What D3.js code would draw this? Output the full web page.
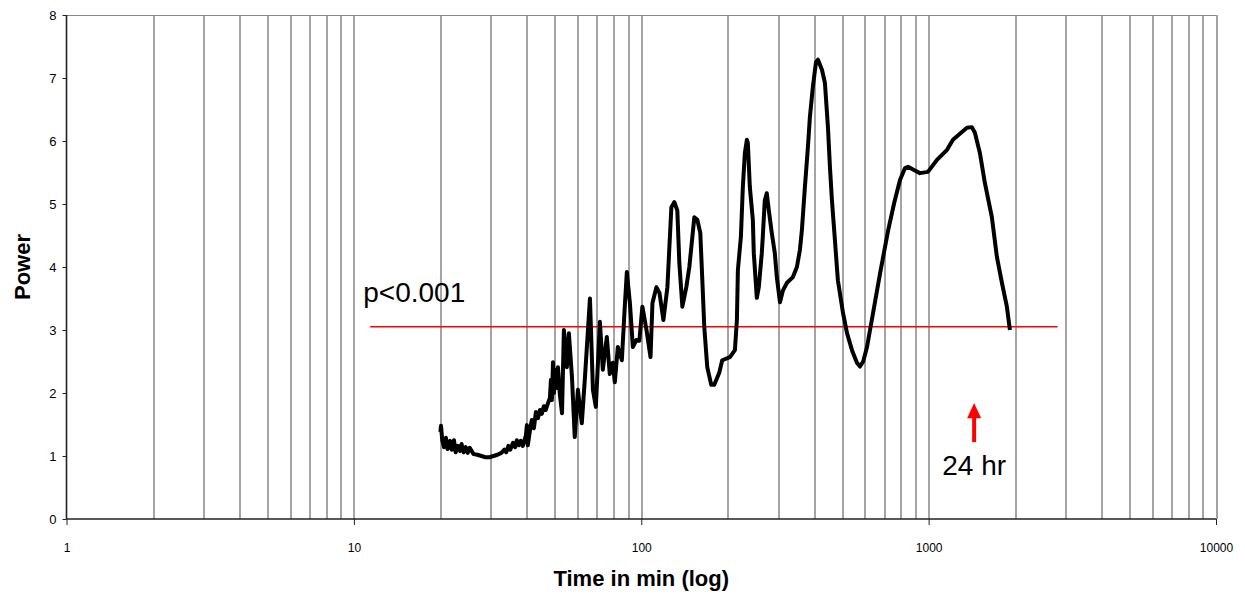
<!DOCTYPE html>
<meta charset="utf-8">
<style>
    body { margin: 0; background: #fff; }
    text { font-family: "Liberation Sans", Arial, sans-serif; fill: #000; }
    .tick text { font-size: 12px; }
    .y-axis .tick text { font-size: 13px; }
    .title { font-weight: bold; font-size: 22px; }
    .note { font-size: 28px; }
</style>
<script src="https://d3js.org/d3.v7.min.js"></script>
<svg width="1245" height="596"></svg>
<script>
    // time in minutes (log axis) and power
    let times = [20, 20.1, 20.3, 20.6, 20.9, 21.2, 21.6, 21.9, 22.3, 22.6, 23.0, 23.4, 23.7, 24.1, 24.5, 24.9, 25.3,
        26.1, 26.9, 27.8, 28.7, 29.6, 30.6, 31.6, 32.6, 33.4, 33.9, 34.5, 35.0, 35.8, 36.4, 36.9, 37.5, 38.1, 38.7,
        39.7, 40, 40.3, 41.0, 41.6, 42.3, 43.0, 43.7, 44.4, 45.1, 45.8, 46.5, 47.3, 48.1, 48.5, 48.9, 49.3, 49.7,
        50.1, 50.9, 51.3, 52.1, 53.0, 53.8, 55.1, 56.0, 57.4, 58.7, 60.2, 62.1, 63.7, 66.3, 67.9, 69.5, 71.8, 73.5,
        75.9, 77.7, 79.6, 80.9, 82.9, 85.6, 87.7, 89.1, 91.3, 93.5, 96.1, 98.5, 100.9, 104.3, 107.7, 109.4, 112.9,
        115.7, 119.4, 123.3, 127.3, 130.4, 133.5, 135.7, 139.0, 143.5, 147.0, 149.4, 153.0, 156.7, 160.5, 163.1,
        165.7, 169.7, 175.2, 179.5, 186.8, 191.3, 203.5, 211.8, 215.2, 216.9, 222.2, 225.7, 229.4, 233.1, 234.9,
        238.7, 244.5, 246.4, 250.4, 252.4, 256.5, 262.7, 264.8, 269.1, 273.4, 277.9, 284.6, 291.6, 296.3, 303.9,
        311.3, 321.4, 337.1, 348.1, 356.5, 362.3, 371.1, 380.1, 386.2, 395.6, 405.5, 412.0, 425.4, 435.7, 446.3,
        453.5, 460.8, 471.9, 483.3, 503.6, 520.0, 541.1, 563.0, 577, 592, 610.4, 640.6, 677.7, 723.6, 759.1, 795,
        827.6, 847.7, 889, 932.7, 994.5, 1069, 1159, 1215, 1359, 1414, 1449, 1508, 1570, 1660, 1728, 1799, 1872, 1918];
    let power = [1.38, 1.48, 1.25, 1.14, 1.29, 1.11, 1.24, 1.10, 1.25, 1.06, 1.16, 1.08, 1.19, 1.06, 1.14, 1.05, 1.13,
        1.03, 1.02, 1.0, 0.98, 0.98, 1.0, 1.02, 1.05, 1.10, 1.06, 1.16, 1.10, 1.21, 1.14, 1.25, 1.17, 1.24, 1.16,
        1.33, 1.49, 1.17, 1.41, 1.57, 1.44, 1.70, 1.60, 1.73, 1.67, 1.79, 1.73, 1.83, 1.92, 2.21, 1.89, 2.49, 2.0,
        2.37, 2.08, 2.41, 1.97, 1.68, 3.0, 2.41, 2.95, 2.25, 1.30, 2.05, 1.52, 2.25, 3.5, 2.05, 1.78, 3.13, 2.37,
        2.89, 2.3, 2.48, 2.17, 2.73, 2.52, 3.4, 3.92, 3.43, 2.73, 2.84, 2.83, 3.37, 3.0, 2.57, 3.43, 3.68,
        3.59, 3.16, 3.68, 4.95, 5.03, 4.9, 4.06, 3.37, 3.68, 4.0, 4.32, 4.79, 4.75, 4.54, 3.8,
        3.05, 2.41, 2.13, 2.13, 2.32, 2.52, 2.57, 2.68, 3.16, 3.95, 4.48, 5.27, 5.81, 6.02, 5.97,
        5.27, 4.75, 4.22, 3.75, 3.51, 3.68, 4.22, 4.48, 5.06, 5.17, 4.9, 4.54, 4.22, 3.84, 3.44,
        3.63, 3.75, 3.84, 4.0, 4.27, 4.59, 5.27, 5.9, 6.38, 6.86, 7.25, 7.29, 7.13, 6.92, 6.22,
        5.59, 5.06, 4.43, 3.79, 3.27, 2.95, 2.68, 2.48, 2.42, 2.5, 2.73, 3.27, 3.9, 4.59, 5.02, 5.38,
        5.57, 5.59, 5.54, 5.49, 5.51, 5.70, 5.86, 6.02, 6.21, 6.22, 6.13, 5.81, 5.33, 4.79, 4.16, 3.75, 3.37, 3.0];

    let sigLevel = 3.05;          // p<0.001 threshold
    let sigRange = [11.4, 2810];  // extent of the red threshold line
    let dayMinutes = 1440;        // 24 hr marker
    let yTicks = [0, 1, 2, 3, 4, 5, 6, 7, 8];
    let xTicks = [1, 10, 100, 1000, 10000];

    let svg = d3.select("svg");
    let margin = {left: 66.5, right: 29, top: 15, bottom: 77};
    let width = 1245 - margin.left - margin.right;
    let height = 596 - margin.top - margin.bottom;

    let x = d3.scaleLog().domain([1, 10000]).range([0, width]);
    let y = d3.scaleLinear().domain([0, 8]).range([height, 0]);

    let g = svg.append("g").attr("transform", "translate(" + margin.left + "," + margin.top + ")");

    // minor + major vertical grid lines
    let grid = [];
    for (let k = 0; k < 4; k++) {
        for (let m = 1; m < 10; m++) {
            let v = m * Math.pow(10, k);
            if (v > 1) grid.push(v);
        }
    }
    g.selectAll(".grid").data(grid).enter().append("line")
        .attr("class", "grid")
        .attr("x1", d => Math.round(x(d)) + 0.5).attr("x2", d => Math.round(x(d)) + 0.5)
        .attr("y1", 0).attr("y2", height)
        .attr("stroke", "#4a4a4a").attr("stroke-width", 1);

    // plot border
    g.append("line").attr("x1", 0).attr("x2", width).attr("y1", 0.5).attr("y2", 0.5)
        .attr("stroke", "#888");
    g.append("line").attr("x1", Math.round(width) + 0.5).attr("x2", Math.round(width) + 0.5)
        .attr("y1", 0).attr("y2", height).attr("stroke", "#444");

    // axes
    let yAxis = g.append("g").attr("class", "y-axis")
        .call(d3.axisLeft(y).tickValues(yTicks).tickFormat(d3.format("d")).tickSize(4).tickPadding(6));
    let xAxis = g.append("g").attr("class", "x-axis")
        .attr("transform", "translate(0," + height + ")")
        .call(d3.axisBottom(x).tickValues(xTicks).tickFormat(d3.format("d")).tickSize(6).tickPadding(18));
    svg.selectAll(".domain").attr("stroke", "#222").attr("stroke-width", 1.6);
    svg.selectAll(".tick line").attr("stroke", "#222");
    xAxis.selectAll(".domain").attr("d", "M0,0H" + width);
    yAxis.selectAll(".domain").attr("d", "M0,0V" + height);

    // threshold line
    g.append("line")
        .attr("x1", x(sigRange[0])).attr("x2", x(sigRange[1]))
        .attr("y1", y(sigLevel)).attr("y2", y(sigLevel))
        .attr("stroke", "#ff0000").attr("stroke-width", 1.5);

    // power curve
    let line = d3.line().x((d, i) => x(times[i])).y(d => y(d));
    g.append("path").datum(power)
        .attr("d", line)
        .attr("fill", "none")
        .attr("stroke", "#000")
        .attr("stroke-width", 4)
        .attr("stroke-linejoin", "round");

    // annotations
    g.append("text").attr("class", "note")
        .attr("x", x(sigRange[0]) - 7).attr("y", y(sigLevel) - 25)
        .text("p<0.001");

    let ax = x(dayMinutes);
    g.append("line")
        .attr("x1", ax).attr("x2", ax)
        .attr("y1", y(1.22)).attr("y2", y(1.62))
        .attr("stroke", "#ff0000").attr("stroke-width", 4);
    g.append("path")
        .attr("d", "M" + (ax - 7) + "," + y(1.6) + "L" + ax + "," + y(1.84) + "L" + (ax + 7) + "," + y(1.6) + "Z")
        .attr("fill", "#ff0000");
    g.append("text").attr("class", "note")
        .attr("x", ax).attr("y", y(0.7))
        .attr("text-anchor", "middle")
        .text("24 hr");

    // axis titles
    svg.append("text").attr("class", "title")
        .attr("x", margin.left + width / 2 - 0).attr("y", 586)
        .attr("text-anchor", "middle")
        .text("Time in min (log)");
    svg.append("text").attr("class", "title")
        .attr("transform", "translate(30," + (margin.top + height / 2) + ") rotate(-90)")
        .attr("text-anchor", "middle")
        .text("Power");
</script>
